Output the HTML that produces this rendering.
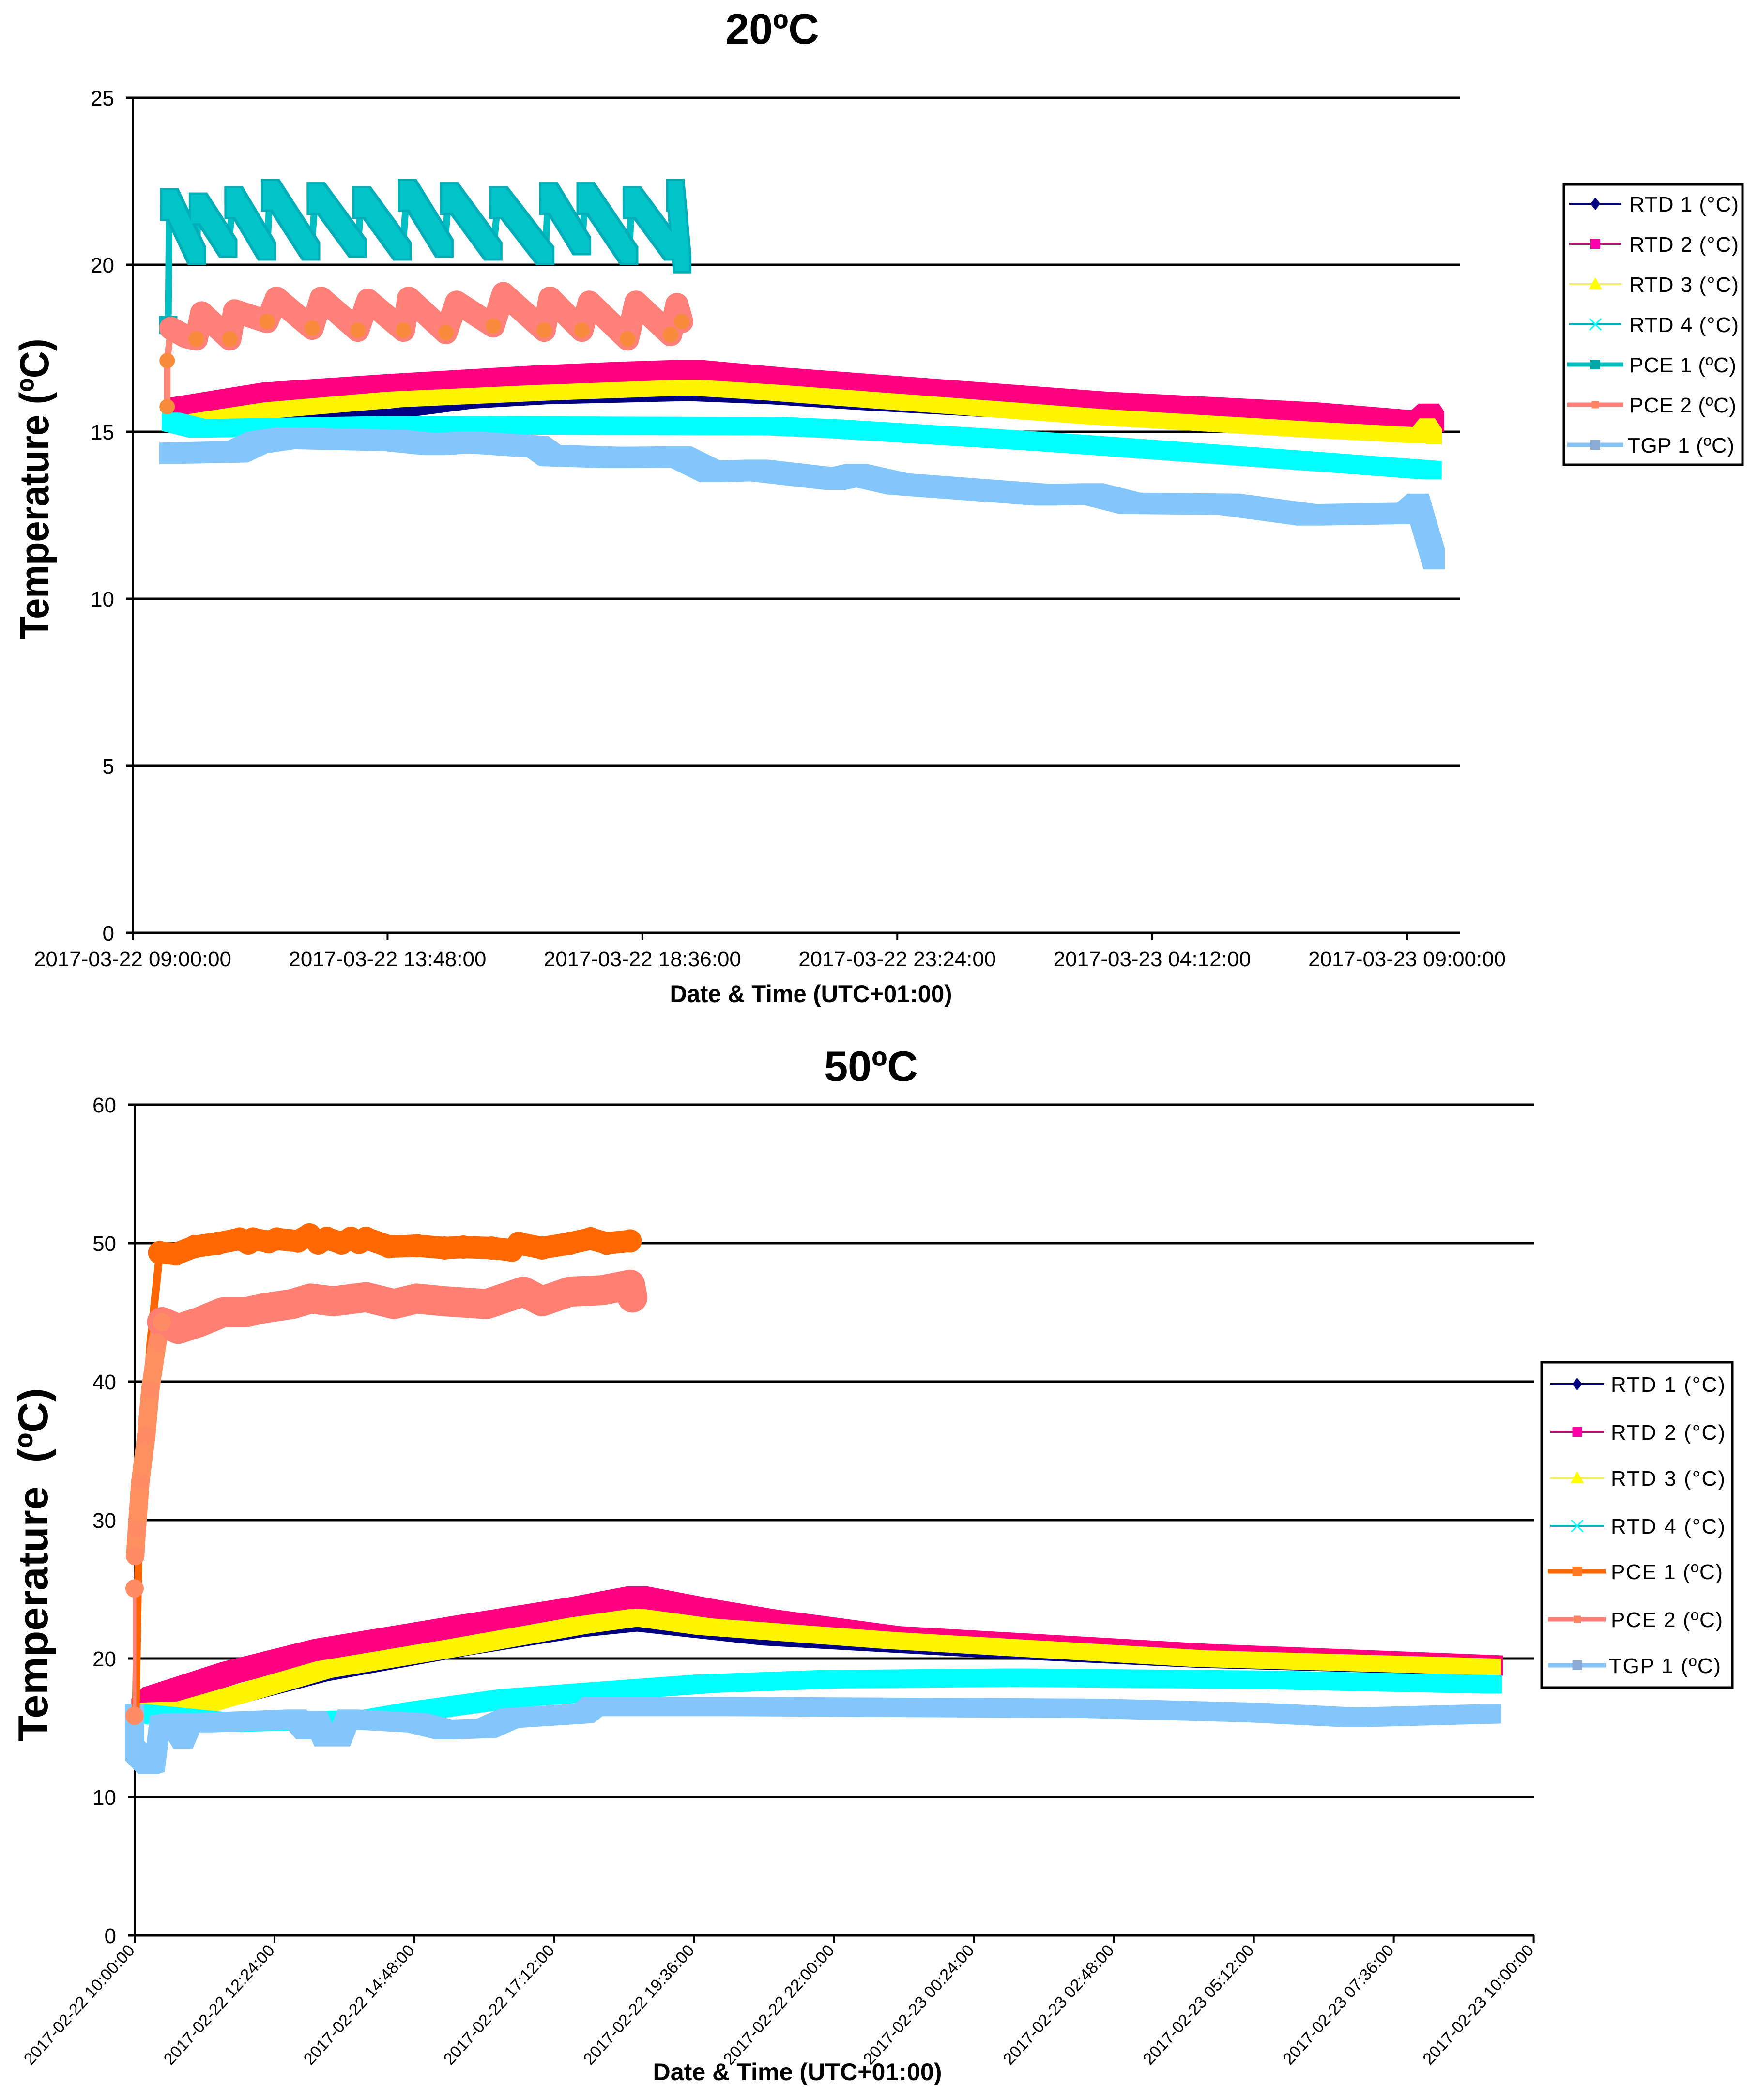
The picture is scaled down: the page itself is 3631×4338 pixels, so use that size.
<!DOCTYPE html>
<html lang="en">
<head>
<meta charset="utf-8">
<title>Temperature charts 20ºC and 50ºC</title>
<style>
html,body{margin:0;padding:0;background:#fff;}
svg{display:block;}
text{font-family:"Liberation Sans",Arial,sans-serif;fill:#000;}
</style>
</head>
<body>
<svg id="figure" xmlns="http://www.w3.org/2000/svg" width="3631" height="4338" viewBox="0 0 3631 4338">
  <rect x="0" y="0" width="3631" height="4338" fill="#ffffff"/>

  <g id="chart20">
    <text x="1595" y="90" font-size="88" font-weight="700" text-anchor="middle">20ºC</text>
    <text x="100" y="1010" font-size="84" font-weight="700" text-anchor="middle" textLength="621" lengthAdjust="spacingAndGlyphs" transform="rotate(-90 100 1010)">Temperature (ºC)</text>
    <text x="1675" y="2070" font-size="50" font-weight="700" text-anchor="middle" textLength="583" lengthAdjust="spacingAndGlyphs">Date &amp; Time (UTC+01:00)</text>
  </g>

  <g id="chart50">
    <text x="1799" y="2233" font-size="88" font-weight="700" text-anchor="middle">50ºC</text>
    <text x="98" y="3232" font-size="86" font-weight="700" text-anchor="middle" textLength="730" lengthAdjust="spacingAndGlyphs" transform="rotate(-90 98 3232)" xml:space="preserve">Temperature  (ºC)</text>
    <text x="1647" y="4297" font-size="50" font-weight="700" text-anchor="middle" textLength="597" lengthAdjust="spacingAndGlyphs">Date &amp; Time (UTC+01:00)</text>
  </g>
</svg>

<script>
/* ---------- chart 20ºC : axes ---------- */
const c20YTicks = [0, 5, 10, 15, 20, 25];
const c20XTickHours = [0, 4.8, 9.6, 14.4, 19.2, 24];
const c20XTickLabels = ["2017-03-22 09:00:00", "2017-03-22 13:48:00", "2017-03-22 18:36:00", "2017-03-22 23:24:00", "2017-03-23 04:12:00", "2017-03-23 09:00:00"];

/* ---------- chart 20ºC : series (hours since start, temperature ºC) ---------- */
const c20Rtd1Hours = [0.72, 2.62, 4.94, 6.33, 7.72, 10.5, 12.09, 13.73, 16, 24.36, 24.48, 24.56];
const c20Rtd1Temps = [15.45, 15.45, 15.55, 15.84, 15.97, 16.07, 15.97, 15.8, 15.6, 15.0, 15.55, 15.0];
const c20Rtd2Hours = [0.85, 2.62, 4.94, 7.72, 9.3, 10.5, 12.09, 18.14, 22.11, 24.24, 24.41, 24.51];
const c20Rtd2Temps = [15.71, 16.17, 16.42, 16.68, 16.79, 16.85, 16.62, 15.9, 15.58, 15.3, 15.54, 15.3];
const c20Rtd3Hours = [1.2, 2.62, 4.94, 7.72, 10.5, 12.09, 18.14, 22.11, 24.24, 24.38, 24.51];
const c20Rtd3Temps = [15.3, 15.65, 15.97, 16.17, 16.33, 16.17, 15.45, 15.07, 14.89, 15.17, 14.86];
const c20Rtd4Hours = [0.72, 1.23, 4.94, 12.09, 13.23, 17.19, 22.11, 24.48];
const c20Rtd4Temps = [15.3, 15.1, 15.2, 15.17, 15.09, 14.7, 14.13, 13.85];
const c20Pce1Hours = [0.67, 0.69, 1.21, 1.23, 1.8, 1.9, 2.53, 2.59, 3.36, 3.45, 4.24, 4.31, 5.08, 5.17, 5.87, 5.96, 6.79, 6.89, 7.77, 7.83, 8.46, 8.53, 9.35, 9.4, 10.18, 10.22, 10.35];
const c20Pce1Temps = [18.2, 22.02, 20.27, 21.89, 20.49, 22.08, 20.4, 22.3, 20.4, 22.2, 20.49, 22.08, 20.4, 22.3, 20.49, 22.2, 20.4, 22.08, 20.27, 22.2, 20.56, 22.2, 20.27, 22.08, 20.4, 22.3, 20.02];
const c20Pce2Hours = [0.65, 0.65, 0.72, 1.0, 1.2, 1.3, 1.83, 1.92, 2.53, 2.71, 3.38, 3.55, 4.24, 4.43, 5.1, 5.2, 5.9, 6.1, 6.79, 6.98, 7.75, 7.86, 8.46, 8.6, 9.32, 9.48, 10.13, 10.25, 10.34];
const c20Pce2Temps = [15.75, 17.13, 18.1, 17.85, 17.78, 18.56, 17.78, 18.62, 18.3, 19, 18.1, 19, 18.04, 18.94, 18.04, 19, 17.97, 18.88, 18.17, 19.14, 18.04, 19, 18.04, 18.88, 17.78, 18.88, 17.91, 18.81, 18.3];
const c20TgpHours = [0.7, 1.97, 2.34, 2.9, 4.94, 5.68, 6.33, 7.63, 7.86, 9.11, 10.32, 10.88, 11.76, 13.23, 13.63, 14.41, 17.19, 18.08, 18.78, 20.65, 22.13, 24.01, 24.21, 24.36, 24.51];
const c20TgpTemps = [14.36, 14.4, 14.68, 14.81, 14.74, 14.62, 14.69, 14.55, 14.29, 14.23, 14.25, 13.81, 13.85, 13.58, 13.72, 13.44, 13.11, 13.14, 12.86, 12.83, 12.51, 12.56, 12.83, 12.0, 11.2];

/* ---------- chart 50ºC : axes ---------- */
const c50YTicks = [0, 10, 20, 30, 40, 50, 60];
const c50XTickHours = [0, 2.4, 4.8, 7.2, 9.6, 12, 14.4, 16.8, 19.2, 21.6, 24];
const c50XTickLabels = ["2017-02-22 10:00:00", "2017-02-22 12:24:00", "2017-02-22 14:48:00", "2017-02-22 17:12:00", "2017-02-22 19:36:00", "2017-02-22 22:00:00", "2017-02-23 00:24:00", "2017-02-23 02:48:00", "2017-02-23 05:12:00", "2017-02-23 07:36:00", "2017-02-23 10:00:00"];

/* ---------- chart 50ºC : series ---------- */
const c50Rtd1Hours = [0.1, 1.27, 3.25, 5.64, 7.63, 8.62, 10.84, 14.54, 18.25, 23.34];
const c50Rtd1Temps = [15.8, 16.46, 18.64, 20.48, 21.82, 22.25, 21.22, 20.36, 19.62, 19.02];
const c50Rtd2Hours = [0.12, 0.31, 1.65, 3.25, 5.64, 7.63, 8.62, 9.78, 10.84, 12.96, 18.25, 23.3];
const c50Rtd2Temps = [16.36, 17.17, 19.0, 20.68, 22.35, 23.69, 24.48, 23.55, 22.8, 21.6, 20.33, 19.49];
const c50Rtd3Hours = [0.1, 0.87, 3.25, 5.64, 7.63, 8.62, 9.78, 12.96, 18.25, 23.3];
const c50Rtd3Temps = [16.2, 16.3, 19.2, 20.88, 22.38, 22.97, 22.3, 21.3, 20.0, 19.4];
const c50Rtd4Hours = [0.07, 1.66, 4.05, 4.84, 6.43, 8.02, 9.78, 11.9, 15.08, 19.3, 23.3];
const c50Rtd4Temps = [16.03, 15.36, 15.62, 16.2, 17.13, 17.63, 18.18, 18.5, 18.62, 18.46, 18.13];
const c50Pce1Hours = [0.02, 0.075, 0.27, 0.43, 0.71, 1.03, 1.43, 1.8, 1.95, 2.03, 2.3, 2.44, 2.8, 3.0, 3.15, 3.3, 3.55, 3.71, 3.85, 3.97, 4.37, 4.84, 5.32, 5.64, 6.12, 6.47, 6.59, 6.99, 7.47, 7.82, 8.1, 8.5];
const c50Pce1Temps = [16, 29.4, 42.8, 49.32, 49.22, 49.75, 49.99, 50.3, 50.0, 50.3, 50.1, 50.3, 50.15, 50.6, 50.0, 50.35, 50.0, 50.35, 50.05, 50.35, 49.75, 49.82, 49.65, 49.72, 49.65, 49.49, 49.99, 49.65, 49.99, 50.32, 49.99, 50.16];
const c50Pce2Hours = [0, 0, 0.01, 0.04, 0.1, 0.2, 0.27, 0.39, 0.47, 0.75, 1.11, 1.51, 1.9, 2.22, 2.7, 3.02, 3.41, 3.97, 4.45, 4.84, 5.32, 6.04, 6.67, 6.99, 7.47, 8.02, 8.5, 8.54];
const c50Pce2Temps = [15.86, 25.06, 27.4, 29.4, 32.8, 36.1, 39.45, 42.8, 44.3, 43.8, 44.3, 45, 45, 45.3, 45.6, 46, 45.8, 46.1, 45.6, 46, 45.8, 45.6, 46.5, 45.8, 46.5, 46.6, 47, 46.07];
const c50TgpHours = [0, 0, 0.23, 0.35, 0.43, 0.67, 0.83, 0.95, 1.19, 2.78, 2.94, 3.13, 3.25, 3.53, 3.65, 4.84, 5.32, 6.04, 6.43, 7.71, 7.86, 10.15, 16.45, 19.3, 20.9, 23.28];
const c50TgpTemps = [16.0, 13.35, 12.35, 12.5, 15.19, 15.36, 14.19, 15.36, 15.36, 15.62, 14.86, 15.52, 14.35, 14.35, 15.62, 15.36, 14.86, 14.96, 15.69, 16.03, 16.53, 16.53, 16.4, 16.08, 15.74, 16.0];

/* ---------- legends ---------- */
const c20LegendLabels = ["RTD 1 (°C)", "RTD 2 (°C)", "RTD 3 (°C)", "RTD 4 (°C)", "PCE 1 (ºC)", "PCE 2 (ºC)", "TGP 1 (ºC)"];
const c50LegendLabels = ["RTD 1 (°C)", "RTD 2 (°C)", "RTD 3 (°C)", "RTD 4 (°C)", "PCE 1 (ºC)", "PCE 2 (ºC)", "TGP 1 (ºC)"];

/* ---------- axis functions ---------- */
function c20X(h) { return 274 + 109.67 * h; }
function c20Y(t) { return 1927 - 69 * t; }
function c50X(h) { return 278 + 120.4 * h; }
function c50Y(t) { return 3998 - 28.6 * t; }

const NS = "http://www.w3.org/2000/svg";

function mk(parent, tag, attrs) {
  const el = document.createElementNS(NS, tag);
  for (const k in attrs) el.setAttribute(k, attrs[k]);
  parent.appendChild(el);
  return el;
}

function pointsOf(hours, temps, sx, sy, from, to) {
  const out = [];
  for (let i = from; i < to; i++) out.push(sx(hours[i]).toFixed(1) + "," + sy(temps[i]).toFixed(1));
  return out.join(" ");
}

/* Outline of a square marker dragged along the data line: this is how the dense
   spreadsheet markers merge into flat-edged bands. */
function sweepPath(hours, temps, sx, sy, from, size, fallingOnly, riseBlock) {
  const r = size / 2;
  let d = "";
  for (let i = from; i < hours.length - 1; i++) {
    if (fallingOnly && temps[i + 1] >= temps[i]) {
      if (riseBlock) {
        const px = sx(hours[i + 1]), py = sy(temps[i + 1]);
        d += "M" + (px - r).toFixed(1) + " " + (py - r).toFixed(1) + "H" + (px + r).toFixed(1) + "V" + (py + r + riseBlock).toFixed(1) + "H" + (px - r).toFixed(1) + "Z";
      }
      continue;
    }
    let ax = sx(hours[i]), ay = sy(temps[i]), bx = sx(hours[i + 1]), by = sy(temps[i + 1]);
    if (bx < ax) { const tx = ax, ty = ay; ax = bx; ay = by; bx = tx; by = ty; }
    let pts;
    if (by >= ay) {
      pts = [[ax - r, ay - r], [ax + r, ay - r], [bx + r, by - r], [bx + r, by + r], [bx - r, by + r], [ax - r, ay + r]];
    } else {
      pts = [[ax - r, ay - r], [bx - r, by - r], [bx + r, by - r], [bx + r, by + r], [ax + r, ay + r], [ax - r, ay + r]];
    }
    d += "M" + pts.map(function (p) { return p[0].toFixed(1) + " " + p[1].toFixed(1); }).join("L") + "Z";
  }
  return d;
}

function drawAxes(root, prefix, yTicks, tickHours, sx, sy, axisRightX, tickLabelFn) {
  const grid = mk(root, "g", {});
  
  
  const xLeft = sx(0);
  yTicks.forEach(function (v) {
    const line = mk(grid, "line", { x1: xLeft - 14, x2: axisRightX, y1: sy(v), y2: sy(v), stroke: "#000", "stroke-width": 5 });
    
    
    const label = mk(root, "text", { x: xLeft - 38, y: sy(v) + 16, "font-size": 44, "text-anchor": "end" });
    
    
    label.textContent = String(v);
  });
  const axis = mk(root, "line", { x1: xLeft, x2: xLeft, y1: sy(yTicks[yTicks.length - 1]), y2: sy(0) + 15, stroke: "#000", "stroke-width": 4 });
  
  
  tickHours.forEach(function (h, i) {
    const tick = mk(root, "line", { x1: sx(h), x2: sx(h), y1: sy(0), y2: sy(0) + 15, stroke: "#000", "stroke-width": 4 });
    
    
    tickLabelFn(sx(h), sy(0), i);
  });
}

function drawSeries(root, name, hours, temps, sx, sy, style) {
  const g = mk(root, "g", { fill: "none", "stroke-linejoin": "round", "stroke-linecap": "round" });
  
  
  const n = hours.length;
  (style.bands || []).forEach(function (b, k) {
    const end = b.to === undefined ? n : b.to;
    const line = mk(g, "polyline", { points: pointsOf(hours, temps, sx, sy, b.from, end), stroke: b.color, "stroke-width": b.width });
    
    
  });
  (style.sweeps || []).forEach(function (s, k) {
    const band = mk(g, "path", { d: sweepPath(hours, temps, sx, sy, s.from || 0, s.size, s.fallingOnly, s.riseBlock), fill: s.color, stroke: "none", "fill-rule": "nonzero" });
    
    
  });
  if (style.marker) {
    const lastMarker = style.markerTo === undefined ? n : style.markerTo;
    for (let i = style.markerFrom || 0; i < lastMarker; i++) {
      const isMin = i <= 1 || i === n - 1 || (temps[i] < temps[i - 1] && temps[i] < temps[i + 1]);
      if (style.minimaOnly && !isMin) continue;
      const x = sx(hours[i]);
      const y = sy(temps[i]);
      let m;
      if (style.marker === "square") {
        m = mk(g, "rect", { x: x - style.size / 2, y: y - style.size / 2, width: style.size, height: style.size, fill: style.markerColor });
      } else {
        m = mk(g, "circle", { cx: x, cy: y, r: style.size / 2, fill: style.markerColor });
      }
      
      
    }
  }
  (style.coreSweeps || []).forEach(function (s, k) {
    const core = mk(g, "path", { d: sweepPath(hours, temps, sx, sy, s.from || 0, s.size, s.fallingOnly, s.riseBlock), fill: s.color, stroke: "none" });
    
    
  });
}

const legendStyles = [
  { line: "#000070", width: 4, marker: "diamond", color: "#000080", size: 13 },
  { line: "#B01870", width: 4, marker: "square", color: "#FF00AA", size: 20 },
  { line: "#F4F070", width: 4, marker: "triangle", color: "#FFFF00", size: 14 },
  { line: "#00B4C4", width: 4, marker: "cross", color: "#00FFFF", size: 12 },
  { line: null, width: 9, marker: "square", color: null, size: 20 },
  { line: "#FF8078", width: 9, marker: "square", color: "#FF8460", size: 15 },
  { line: "#88C4F4", width: 9, marker: "square", color: "#88AAD4", size: 20 }
];

function drawLegend(root, prefix, box, rows, labels, thickColor, thinX, thickX, textX, textLen) {
  const g = mk(root, "g", {});
  
  
  const frame = mk(g, "rect", { x: box.x, y: box.y, width: box.w, height: box.h, fill: "#fff", stroke: "#000", "stroke-width": 5 });
  
  
  labels.forEach(function (text, i) {
    const st = legendStyles[i];
    const y = rows[i];
    const entry = mk(g, "g", {});
    
    
    const thick = st.width > 5;
    const xs = thick ? thickX : thinX;
    mk(entry, "line", { x1: xs[0], x2: xs[1], y1: y, y2: y, stroke: st.line || thickColor.line, "stroke-width": st.width });
    const cx = (thinX[0] + thinX[1]) / 2;
    const col = st.color || thickColor.marker;
    const s = st.size;
    if (st.marker === "square") {
      mk(entry, "rect", { x: cx - s / 2, y: y - s / 2, width: s, height: s, fill: col });
    } else if (st.marker === "diamond") {
      mk(entry, "polygon", { points: [cx, y - s, cx + s * 0.8, y, cx, y + s, cx - s * 0.8, y].join(" "), fill: col });
    } else if (st.marker === "triangle") {
      mk(entry, "polygon", { points: [cx, y - s, cx + s, y + s * 0.8, cx - s, y + s * 0.8].join(" "), fill: col });
    } else {
      mk(entry, "path", { d: "M" + (cx - s) + " " + (y - s) + "L" + (cx + s) + " " + (y + s) + "M" + (cx + s) + " " + (y - s) + "L" + (cx - s) + " " + (y + s), stroke: col, "stroke-width": 3, fill: "none" });
    }
    const t = mk(entry, "text", { x: text.charAt(0) === "T" ? textX - 4 : textX, y: y + 16, "font-size": 44, textLength: text.charAt(0) === "R" ? textLen : textLen - 5, lengthAdjust: "spacing" });
    
    
    t.textContent = text;
  });
}

/* ---------- render chart 20ºC ---------- */
const root20 = document.getElementById("chart20");
drawAxes(root20, "c20", c20YTicks, c20XTickHours, c20X, c20Y, 3016, function (x, y0, i) {
  const t = mk(root20, "text", { x: x, y: 1996, "font-size": 44, "text-anchor": "middle", textLength: 408, lengthAdjust: "spacingAndGlyphs" });
  
  
  t.textContent = c20XTickLabels[i];
});
drawSeries(root20, "c20-rtd-1", c20Rtd1Hours, c20Rtd1Temps, c20X, c20Y, { sweeps: [{ size: 20, color: "#000080" }] });
drawSeries(root20, "c20-rtd-2", c20Rtd2Hours, c20Rtd2Temps, c20X, c20Y, { sweeps: [{ size: 42, color: "#FF0080" }] });
drawSeries(root20, "c20-rtd-3", c20Rtd3Hours, c20Rtd3Temps, c20X, c20Y, { sweeps: [{ size: 32, color: "#FFF500" }] });
drawSeries(root20, "c20-rtd-4", c20Rtd4Hours, c20Rtd4Temps, c20X, c20Y, { sweeps: [{ size: 38, color: "#00FFFF" }] });
drawSeries(root20, "c20-pce-1", c20Pce1Hours, c20Pce1Temps, c20X, c20Y, {
  bands: [{ from: 0, width: 14, color: "#00BFC4" }],
  sweeps: [{ from: 0, size: 38, color: "#00AEB8", fallingOnly: true, riseBlock: 30 }],
  marker: "square", size: 38, markerColor: "#00AEB8",
  coreSweeps: [{ from: 0, size: 29, color: "#00C4C8", fallingOnly: true, riseBlock: 30 }]
});
drawSeries(root20, "c20-pce-2", c20Pce2Hours, c20Pce2Temps, c20X, c20Y, {
  bands: [{ from: 0, to: 3, width: 14, color: "#FF8878" }, { from: 2, width: 48, color: "#FF8078" }],
  marker: "circle", size: 32, markerColor: "#F88C3C", minimaOnly: true
});
drawSeries(root20, "c20-tgp-1", c20TgpHours, c20TgpTemps, c20X, c20Y, { sweeps: [{ size: 44, color: "#82C6FC" }] });
drawLegend(root20, "c20", { x: 3230, y: 381, w: 369, h: 579 }, [421, 504, 587, 670, 753, 836, 919], c20LegendLabels,
  { line: "#00BFBF", marker: "#00A8A8" }, [3241, 3349], [3237, 3353], 3365, 226);

/* ---------- render chart 50ºC ---------- */
const root50 = document.getElementById("chart50");
drawAxes(root50, "c50", c50YTicks, c50XTickHours, c50X, c50Y, 3168, function (x, y0, i) {
  const ax = x + 2;
  const ay = 4030;
  const t = mk(root50, "text", { x: ax, y: ay, "font-size": 34, "text-anchor": "end", textLength: 321, lengthAdjust: "spacingAndGlyphs", transform: "rotate(-47.7 " + ax + " " + ay + ")" });
  
  
  t.textContent = c50XTickLabels[i];
});
drawSeries(root50, "c50-rtd-1", c50Rtd1Hours, c50Rtd1Temps, c50X, c50Y, { sweeps: [{ size: 16, color: "#000080" }] });
drawSeries(root50, "c50-rtd-2", c50Rtd2Hours, c50Rtd2Temps, c50X, c50Y, { sweeps: [{ size: 42, color: "#FF0080" }] });
drawSeries(root50, "c50-rtd-3", c50Rtd3Hours, c50Rtd3Temps, c50X, c50Y, { sweeps: [{ size: 34, color: "#FFF500" }] });
drawSeries(root50, "c50-rtd-4", c50Rtd4Hours, c50Rtd4Temps, c50X, c50Y, { sweeps: [{ size: 38, color: "#00FFFF" }] });
drawSeries(root50, "c50-tgp-1", c50TgpHours, c50TgpTemps, c50X, c50Y, { sweeps: [{ size: 40, color: "#82C6FC" }] });
drawSeries(root50, "c50-pce-1", c50Pce1Hours, c50Pce1Temps, c50X, c50Y, {
  bands: [{ from: 0, to: 4, width: 16, color: "#FF6600" }, { from: 3, width: 46, color: "#FF6800" }],
  marker: "circle", size: 48, markerColor: "#FF6800", markerFrom: 3
});
drawSeries(root50, "c50-pce-2", c50Pce2Hours, c50Pce2Temps, c50X, c50Y, {
  bands: [{ from: 0, to: 2, width: 7, color: "#FF8078" }, { from: 2, to: 9, width: 38, color: "#FF9060" }, { from: 8, width: 62, color: "#FF7F72" }],
  marker: "circle", size: 38, markerColor: "#FF8C64", markerFrom: 0, markerTo: 9
});
drawLegend(root50, "c50", { x: 3184, y: 2814, w: 394, h: 672 }, [2859, 2958, 3053, 3152, 3246, 3345, 3440], c50LegendLabels,
  { line: "#FF6600", marker: "#FF7A20" }, [3202, 3313], [3197, 3317], 3327, 236);
</script>
</body>
</html>
